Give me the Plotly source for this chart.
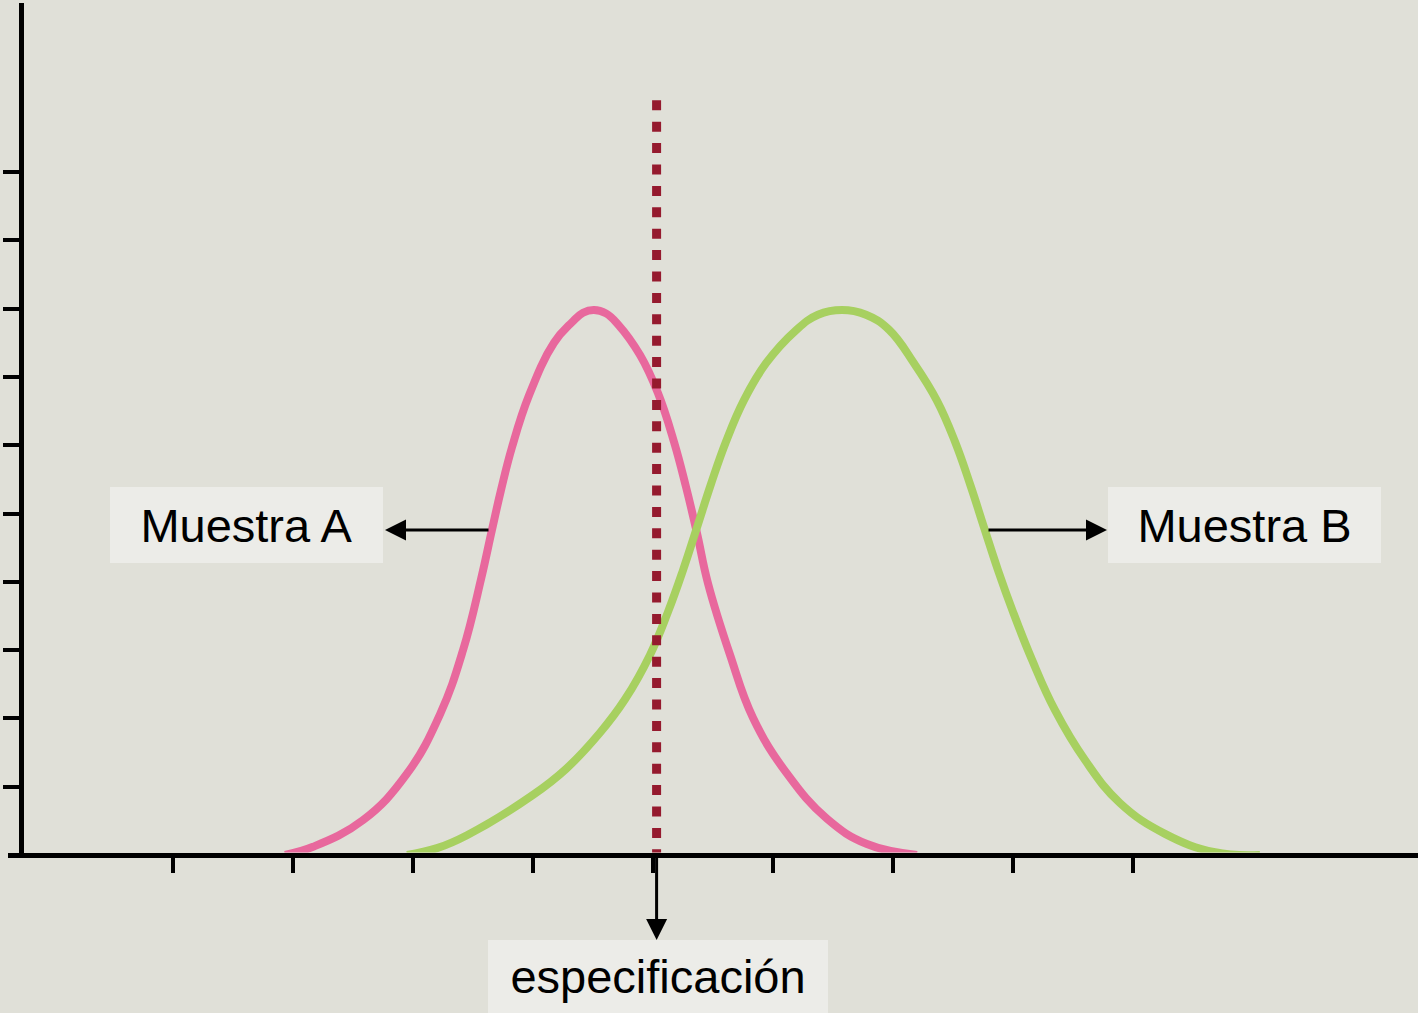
import plotly.graph_objects as go

# ---------------- data ----------------
x_ticks = [1, 2, 3, 4, 5, 6, 7, 8, 9]
y_ticks = [1, 2, 3, 4, 5, 6, 7, 8, 9, 10]

muestra_a_x = [1.933, 2.167, 2.583, 2.950, 3.225, 3.417, 3.567, 3.658, 3.733, 3.825, 3.967,
               4.175, 4.325, 4.417, 4.508, 4.608, 4.708, 4.892, 5.042, 5.175, 5.275, 5.367,
               5.458, 5.642, 5.833, 6.117, 6.450, 6.783, 7.200]
muestra_a_y = [0.00, 0.12, 0.51, 1.19, 2.06, 3.00, 4.04, 4.76, 5.34, 5.97, 6.73,
               7.50, 7.80, 7.94, 7.98, 7.93, 7.77, 7.32, 6.76, 6.05, 5.39, 4.71,
               3.98, 2.93, 2.01, 1.19, 0.53, 0.16, 0.00]

muestra_b_x = [2.950, 3.200, 3.450, 4.000, 4.275, 4.558, 4.767, 4.975, 5.125, 5.250, 5.367,
               5.483, 5.608, 5.758, 5.942, 6.183, 6.375, 6.575, 6.775, 6.967, 7.175, 7.367,
               7.517, 7.642, 7.758, 7.875, 8.000, 8.158, 8.350, 8.600, 8.892, 9.267, 9.683,
               10.058]
muestra_b_y = [0.00, 0.10, 0.29, 0.88, 1.26, 1.79, 2.28, 2.93, 3.56, 4.17, 4.80,
               5.43, 6.05, 6.66, 7.20, 7.67, 7.91, 7.98, 7.91, 7.69, 7.20, 6.65,
               6.05, 5.43, 4.80, 4.17, 3.56, 2.86, 2.12, 1.39, 0.76, 0.31, 0.04,
               0.00]

spec_x = [5.03, 5.03]
spec_y = [11.05, 0.0]

label_a = "Muestra A"
label_b = "Muestra B"
label_spec = "especificación"

# ---------------- layout geometry ----------------
W, H = 1418, 1013
PX_X0, PX_PER_X = 53.0, 120.0      # pixel of x=0, pixels per x unit
PX_Y0, PX_PER_Y = 855.0, 68.3      # pixel of y=0, pixels per y unit
AX_LW = 5

x_left_px = 8.0
y_top_px = 3.0
plot_bottom_px = PX_Y0 - AX_LW / 2.0

def px_to_x(px):
    return (px - PX_X0) / PX_PER_X

def px_to_y(py):
    return (PX_Y0 - py) / PX_PER_Y

def x_to_px(x):
    return PX_X0 + x * PX_PER_X

BG = "#E0E0D8"
BOX = "#ECECE8"
PINK = "#E8689D"
GREEN = "#A7D060"
SPEC = "#951A2E"
FONT = "Liberation Sans, Arial, sans-serif"

fig = go.Figure()

fig.add_trace(go.Scatter(x=muestra_a_x, y=muestra_a_y, mode="lines",
                         line=dict(color=PINK, width=8, shape="spline", smoothing=1.2),
                         hoverinfo="skip", showlegend=False))
fig.add_trace(go.Scatter(x=muestra_b_x, y=muestra_b_y, mode="lines",
                         line=dict(color=GREEN, width=8, shape="spline", smoothing=1.2),
                         hoverinfo="skip", showlegend=False))
fig.add_trace(go.Scatter(x=spec_x, y=spec_y, mode="lines",
                         line=dict(color=SPEC, width=9, dash="10px,11.4px"),
                         hoverinfo="skip", showlegend=False, cliponaxis=False))

fig.update_layout(
    width=W, height=H,
    margin=dict(l=0, r=0, t=0, b=0),
    paper_bgcolor=BG, plot_bgcolor=BG,
    showlegend=False,
    xaxis=dict(
        domain=[x_left_px / W, 1.0],
        range=[px_to_x(x_left_px), px_to_x(W)],
        showgrid=False, zeroline=False,
        showline=True, linewidth=AX_LW, linecolor="black",
        ticks="outside", tickvals=x_ticks, ticklen=15, tickwidth=4, tickcolor="black",
        showticklabels=False, anchor="y", fixedrange=True,
    ),
    yaxis=dict(
        domain=[1 - plot_bottom_px / H, 1 - y_top_px / H],
        range=[px_to_y(plot_bottom_px), px_to_y(y_top_px)],
        showgrid=False, zeroline=False,
        showline=True, linewidth=AX_LW, linecolor="black",
        ticks="outside", tickvals=y_ticks, ticklen=16, tickwidth=4, tickcolor="black",
        showticklabels=False, anchor="free", position=20.5 / W,
        fixedrange=True,
    ),
)

arrow_y = px_to_y(530)
annotations = [
    # arrows
    dict(x=px_to_x(385), y=arrow_y, ax=px_to_x(490), ay=arrow_y, xref="x", yref="y",
         axref="x", ayref="y", text="", showarrow=True, arrowhead=2, arrowsize=1.4,
         arrowwidth=3, arrowcolor="black"),
    dict(x=px_to_x(1107), y=arrow_y, ax=px_to_x(987), ay=arrow_y, xref="x", yref="y",
         axref="x", ayref="y", text="", showarrow=True, arrowhead=2, arrowsize=1.4,
         arrowwidth=3, arrowcolor="black"),
    dict(x=x_to_px(spec_x[0]) / W, y=1 - 940 / H, xref="paper", yref="paper",
         ax=0, ay=-(940 - 856), text="", showarrow=True, arrowhead=2, arrowsize=1.4,
         arrowwidth=3, arrowcolor="black"),
    # label boxes
    dict(x=246.5 / W, y=1 - 525 / H, xref="paper", yref="paper", text=label_a,
         showarrow=False, xanchor="center", yanchor="middle", bgcolor=BOX,
         width=273, height=76, borderpad=0, borderwidth=0,
         font=dict(family=FONT, size=47, color="black")),
    dict(x=1244.5 / W, y=1 - 525 / H, xref="paper", yref="paper", text=label_b,
         showarrow=False, xanchor="center", yanchor="middle", bgcolor=BOX,
         width=273, height=76, borderpad=0, borderwidth=0,
         font=dict(family=FONT, size=47, color="black")),
    dict(x=658 / W, y=1 - 976.5 / H, xref="paper", yref="paper", text=label_spec,
         showarrow=False, xanchor="center", yanchor="middle", bgcolor=BOX,
         width=340, height=73, borderpad=0, borderwidth=0,
         font=dict(family=FONT, size=47, color="black")),
]
fig.update_layout(annotations=annotations)

fig.write_html(
    "out.html",
    config={"displayModeBar": False},
    post_script="document.body.style.margin='0';document.body.style.overflow='hidden';"
                "document.documentElement.style.overflow='hidden';",
)
